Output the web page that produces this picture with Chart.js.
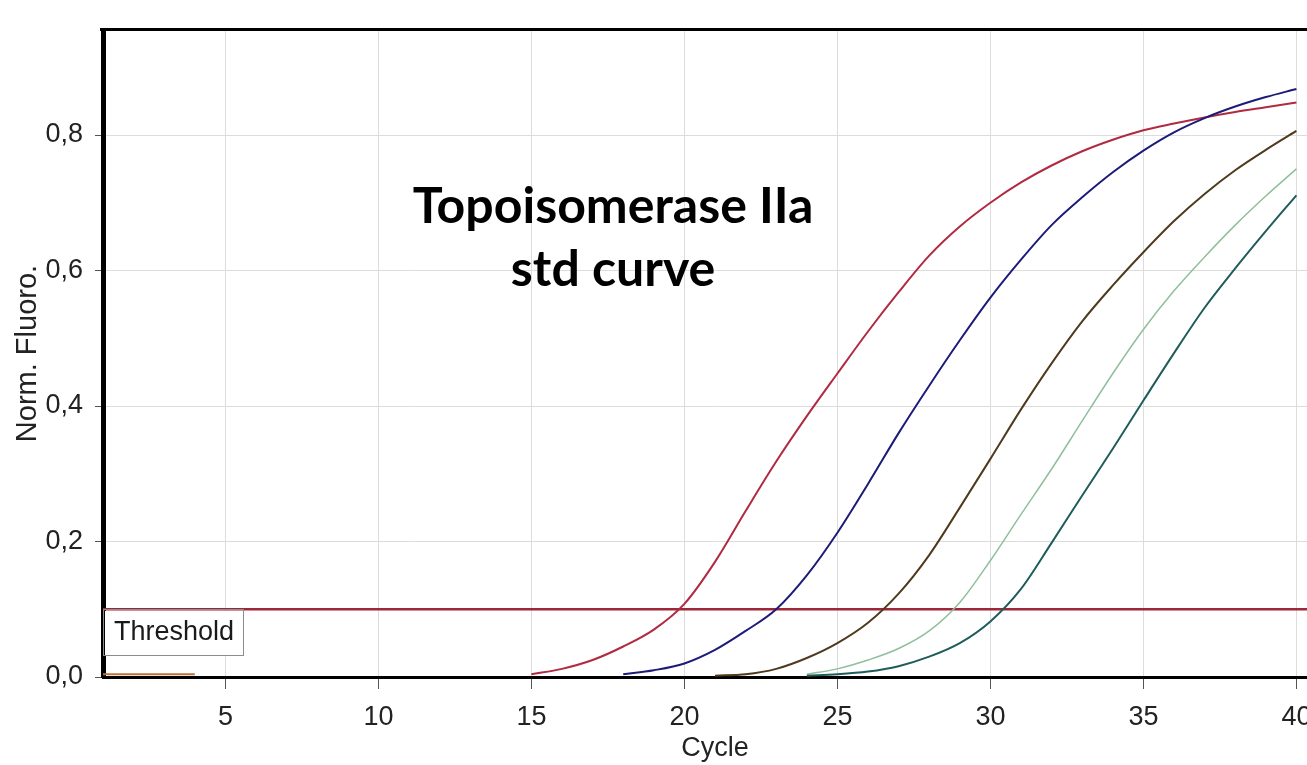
<!DOCTYPE html>
<html>
<head>
<meta charset="utf-8">
<title>Topoisomerase IIa std curve</title>
<script src="https://cdn.jsdelivr.net/npm/chart.js@4/dist/chart.umd.min.js"></script>
<style>
  html, body { margin: 0; padding: 0; background: #fff; overflow: hidden; }
  canvas { display: block; }
</style>
</head>
<body>
<canvas id="amp" width="1340" height="765"></canvas>
<script>
// normalised fluorescence per cycle; each run starts at its own first visible cycle
const redStart = 15;
const redValues = [0.004, 0.012, 0.025, 0.045, 0.07, 0.108, 0.17, 0.245, 0.318, 0.385, 0.448, 0.51, 0.568,
  0.622, 0.665, 0.70, 0.73, 0.755, 0.776, 0.793, 0.807, 0.817, 0.826, 0.834, 0.841, 0.848];

const blueStart = 18;
const blueValues = [0.004, 0.01, 0.02, 0.04, 0.068, 0.1, 0.15, 0.213, 0.285, 0.36, 0.43, 0.497, 0.56,
  0.616, 0.667, 0.708, 0.745, 0.777, 0.804, 0.825, 0.842, 0.856, 0.868];

const brownStart = 21;
const brownValues = [0.002, 0.004, 0.012, 0.028, 0.05, 0.08, 0.123, 0.18, 0.25, 0.322, 0.395, 0.463,
  0.525, 0.578, 0.627, 0.673, 0.713, 0.748, 0.778, 0.806];

const greenStart = 24;
const greenValues = [0.004, 0.012, 0.025, 0.042, 0.068, 0.11, 0.172, 0.24, 0.307, 0.378, 0.448,
  0.513, 0.57, 0.62, 0.667, 0.71, 0.75];

const tealStart = 24;
const tealValues = [0.002, 0.004, 0.008, 0.016, 0.03, 0.05, 0.082, 0.13, 0.198, 0.268, 0.337, 0.408,
  0.478, 0.545, 0.603, 0.658, 0.711];

// no-template control, only the first few cycles
const ntcStart = 1;
const ntcValues = [0.004, 0.004, 0.004, 0.004];

const threshold = 0.1;
const cycleTicks = [5, 10, 15, 20, 25, 30, 35, 40];
const fluoroTicks = [0, 0.2, 0.4, 0.6, 0.8];
const titleLines = ['Topoisomerase IIa', 'std curve'];

const toPoints = (start, values) => values.map((v, i) => ({ x: start + i, y: v }));

const run = (label, start, values, color, width) => ({
  label,
  data: toPoints(start, values),
  borderColor: color,
  borderWidth: width,
  pointRadius: 0,
  cubicInterpolationMode: 'monotone',
  fill: false,
});

const decimalComma = v => v.toFixed(1).replace('.', ',');

const overlay = {
  id: 'overlay',
  afterDatasetsDraw(chart) {
    const { ctx, chartArea: a, scales: { y } } = chart;
    ctx.save();

    // top edge of the plot frame
    ctx.fillStyle = '#000';
    ctx.fillRect(a.left - 3, a.top - 2, a.right - a.left + 3, 3);

    // threshold tag hanging under the line
    const ty = Math.round(y.getPixelForValue(threshold));
    ctx.fillStyle = '#fff';
    ctx.fillRect(a.left + 2, ty + 2, 139, 45);
    ctx.strokeStyle = '#8c8c8c';
    ctx.lineWidth = 1;
    ctx.strokeRect(a.left + 0.5, ty + 0.5, 140, 46);
    ctx.fillStyle = '#1a1a1a';
    ctx.font = '27px "Liberation Sans"';
    ctx.textAlign = 'left';
    ctx.textBaseline = 'middle';
    ctx.fillText('Threshold', a.left + 11, ty + 24);

    // heading inside the plot
    ctx.fillStyle = '#000';
    ctx.font = 'bold 50px Lato';
    ctx.textAlign = 'center';
    ctx.textBaseline = 'alphabetic';
    ctx.fillText(titleLines[0], 613, 223);
    ctx.fillText(titleLines[1], 613, 286);
    ctx.restore();
  }
};

new Chart(document.getElementById('amp'), {
  type: 'line',
  data: {
    datasets: [
      run('NTC', ntcStart, ntcValues, '#b8743c', 2),
      run('Std 5', tealStart, tealValues, '#1f5c5c', 2),
      run('Std 4', greenStart, greenValues, '#8fbf9c', 1.5),
      run('Std 3', brownStart, brownValues, '#4f3a1e', 2),
      run('Std 2', blueStart, blueValues, '#1c1c78', 2),
      run('Std 1', redStart, redValues, '#b02a40', 2),
      {
        label: 'Threshold',
        data: [{ x: 1, y: threshold }, { x: 41, y: threshold }],
        borderColor: '#9e2638',
        borderWidth: 2.5,
        pointRadius: 0,
      },
    ],
  },
  options: {
    responsive: false,
    animation: false,
    events: [],
    layout: { padding: { top: 30, left: 0, right: 13, bottom: 0 } },
    plugins: {
      legend: { display: false },
      tooltip: { enabled: false },
    },
    scales: {
      x: {
        type: 'linear',
        min: 1,
        max: 41,
        afterBuildTicks: scale => { scale.ticks = cycleTicks.map(value => ({ value })); },
        afterFit: scale => { scale.height = 88; },
        grid: { color: '#dcdcdc', tickColor: '#555', tickLength: 12 },
        border: { color: '#000', width: 3 },
        ticks: {
          color: '#222',
          padding: 12,
          maxRotation: 0,
          font: { family: 'Liberation Sans', size: 27 },
        },
        title: {
          display: true,
          text: 'Cycle',
          color: '#222',
          padding: 0,
          font: { family: 'Liberation Sans', size: 27 },
        },
      },
      y: {
        min: 0,
        max: 0.955,
        afterBuildTicks: scale => { scale.ticks = fluoroTicks.map(value => ({ value })); },
        afterFit: scale => { scale.width = 103; },
        grid: { color: '#dcdcdc', tickColor: '#555', tickLength: 8 },
        border: { color: '#000', width: 5 },
        ticks: {
          color: '#222',
          padding: 12,
          callback: v => decimalComma(v),
          font: { family: 'Liberation Sans', size: 27 },
        },
        title: {
          display: true,
          text: 'Norm. Fluoro.',
          color: '#222',
          padding: { top: 11, bottom: 0 },
          font: { family: 'Liberation Sans', size: 29 },
        },
      },
    },
  },
  plugins: [overlay],
});
</script>
</body>
</html>
